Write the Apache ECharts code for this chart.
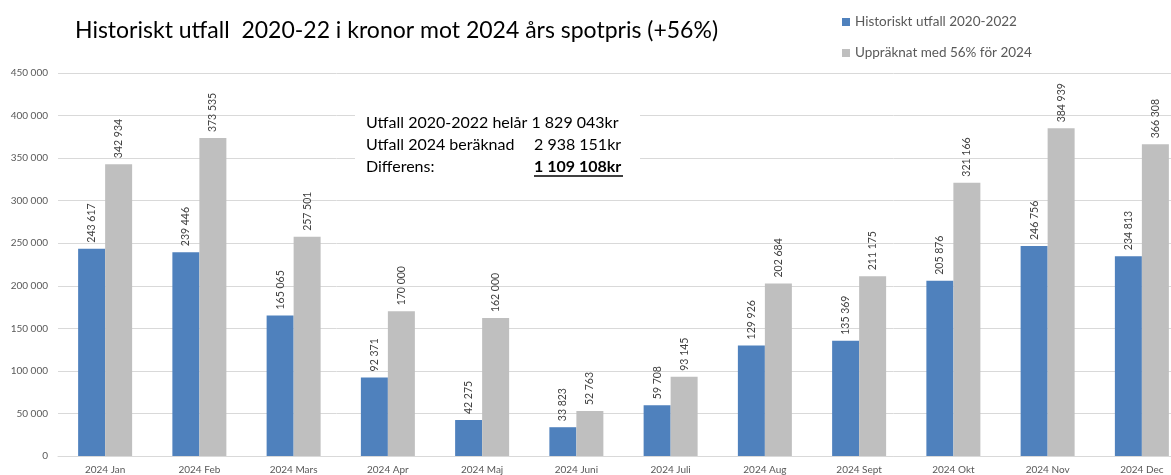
<!DOCTYPE html>
<html>
<head>
<meta charset="utf-8">
<script src="https://cdn.jsdelivr.net/npm/echarts@6/dist/echarts.min.js"></script>
<style>
  html, body { margin: 0; padding: 0; background: #fff; }
</style>
</head>
<body>
<div id="SpotChart" style="width: 1171px; height: 475px"></div>
<script>
const categories = ["2024 Jan", "2024 Feb", "2024 Mars", "2024 Apr", "2024 Maj", "2024 Juni",
  "2024 Juli", "2024 Aug", "2024 Sept", "2024 Okt", "2024 Nov", "2024 Dec"];
const historiskt = [243617, 239446, 165065, 92371, 42275, 33823, 59708, 129926, 135369, 205876, 246756, 234813];
const upprknat = [342934, 373535, 257501, 170000, 162000, 52763, 93145, 202684, 211175, 321166, 384939, 366308];
const seriesNames = ["Historiskt utfall 2020-2022", "Uppräknat med 56% för 2024"];
const summaryLines = [
  ["Utfall 2020-2022 helår 1 829 043kr", ""],
  ["Utfall 2024 beräknad", "2 938 151kr"],
  ["Differens:", "1 109 108kr"],
];

const fmt = (v) => String(v).replace(/\B(?=(\d{3})+(?!\d))/g, " ");
const font = "Lato, 'Open Sans', sans-serif";

const chart = echarts.init(document.getElementById("SpotChart"));

const barLabel = {
  show: true,
  position: "top",
  rotate: 90,
  align: "left",
  verticalAlign: "middle",
  distance: 6,
  fontSize: 10.5,
  fontFamily: font,
  color: "#404040",
  formatter: (p) => fmt(p.value),
};

// summary box texts, left column + right column
let boxTexts = [];
summaryLines.forEach((l, i) => {
  boxTexts.push({ type: "text", z: 60, x: 366, y: 123 + i * 22, style: { text: l[0], font: "16px " + font, fill: "#000", verticalAlign: "middle" } });
  if (l[1]) {
    boxTexts.push({ type: "text", z: 60, x: 534, y: 123 + i * 22, style: { text: l[1], font: (i === 2 ? "bold " : "") + "16px " + font, fill: "#000", verticalAlign: "middle" } });
  }
});

const option = {
  animation: false,
  color: ["#4f81bd", "#bfbfbf"],
  title: {
    text: "Historiskt utfall  2020-22 i kronor mot 2024 års spotpris (+56%)",
    left: 70,
    top: 14,
    textStyle: { fontFamily: font, fontSize: 23, fontWeight: "normal", color: "#000" },
  },
  legend: {
    orient: "vertical",
    left: 837,
    top: 10,
    itemWidth: 8,
    itemHeight: 8,
    itemGap: 17,
    icon: "rect",
    textStyle: { fontFamily: font, fontSize: 13.5, color: "#595959" },
    data: seriesNames,
  },
  grid: { left: 58, top: 73, bottom: 19, right: -18, outerBoundsMode: "none", containLabel: false },
  xAxis: {
    type: "category",
    data: categories,
    axisTick: { show: false },
    axisLine: { lineStyle: { color: "#d9d9d9" } },
    axisLabel: { fontFamily: font, fontSize: 10, color: "#595959", margin: 9, interval: 0 },
  },
  yAxis: {
    type: "value",
    min: 0,
    max: 450000,
    interval: 50000,
    axisLine: { show: false },
    axisTick: { show: false },
    splitLine: { lineStyle: { color: "#d9d9d9" } },
    axisLabel: { fontFamily: font, fontSize: 10, color: "#595959", margin: 10, formatter: (v) => fmt(v) },
  },
  graphic: [
    { type: "rect", z: 50, shape: { x: 355, y: 108, width: 285, height: 74 }, style: { fill: "#fff" } },
    ...boxTexts,
    { type: "line", z: 60, shape: { x1: 534, y1: 176, x2: 623, y2: 176 }, style: { stroke: "#000", lineWidth: 1.5 } },
  ],
  series: [
    { name: seriesNames[0], type: "bar", data: historiskt, barWidth: 27, barGap: "0%", label: barLabel },
    { name: seriesNames[1], type: "bar", data: upprknat, barWidth: 27, barGap: "0%", label: barLabel },
  ],
};
chart.setOption(option);
</script>
</body>
</html>
